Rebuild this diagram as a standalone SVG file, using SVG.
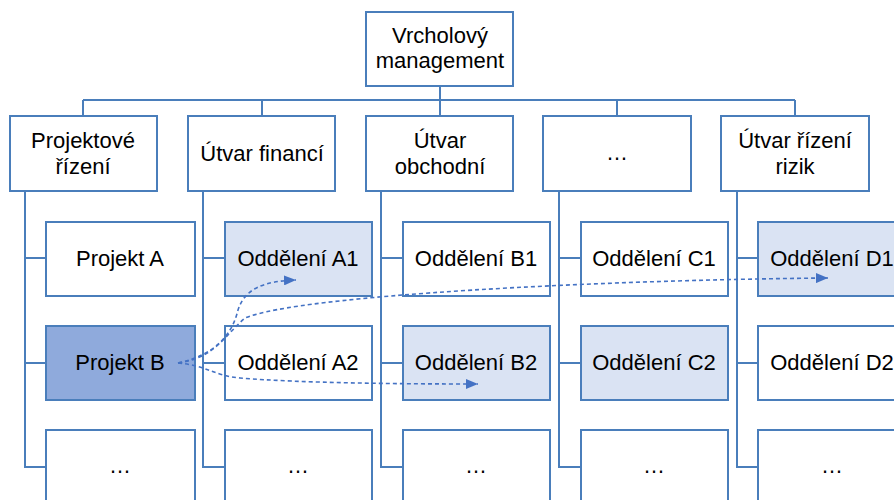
<svg xmlns="http://www.w3.org/2000/svg" width="894" height="500" viewBox="0 0 894 500">
<defs>
<style>
.b{fill:#fff;stroke:#4a7ebb;stroke-width:2}
.l{fill:#dae3f3;stroke:#4a7ebb;stroke-width:2}
.d{fill:#8faadc;stroke:#4a7ebb;stroke-width:2}
.c{fill:none;stroke:#4a7ebb;stroke-width:2}
.a{fill:none;stroke:#4472c4;stroke-width:1.6;stroke-dasharray:4 3}
text{font-family:"Liberation Sans",Arial,sans-serif;font-size:22px;fill:#000;text-anchor:middle}
</style>
<marker id="ah" viewBox="0 0 12 10" refX="12" refY="5" markerWidth="12" markerHeight="10" markerUnits="userSpaceOnUse" orient="auto">
<path d="M0,0 L12,5 L0,10 z" fill="#4472c4"/>
</marker>
</defs>
<g id="connectors">
<path class="c" d="M440,86 V116 M83,100 H795 M83,100 V116 M262,100 V116 M617,100 V116 M795,100 V116"/>
<path class="c" d="M25,191 V467 H46 M25,258 H46 M25,363 H46"/>
<path class="c" d="M203,191 V467 H225 M203,258 H225 M203,363 H225"/>
<path class="c" d="M381,191 V467 H403 M381,258 H403 M381,363 H403"/>
<path class="c" d="M559,191 V467 H581 M559,258 H581 M559,363 H581"/>
<path class="c" d="M737,191 V467 H758 M737,258 H758 M737,363 H758"/>
</g>
<g id="top"><rect class="b" x="366" y="12" width="147" height="74"/><text x="440" y="43">Vrcholový</text><text x="440" y="68">management</text></g>
<g id="projektove"><rect class="b" x="10" y="116" width="147" height="75"/><text x="83" y="148">Projektové</text><text x="83" y="174">řízení</text></g>
<g id="financi"><rect class="b" x="188" y="116" width="147" height="75"/><text x="262" y="161">Útvar financí</text></g>
<g id="obchodni"><rect class="b" x="366" y="116" width="147" height="75"/><text x="440" y="148">Útvar</text><text x="440" y="174">obchodní</text></g>
<g id="dots1"><rect class="b" x="543" y="116" width="148" height="75"/><text x="617" y="160">…</text></g>
<g id="rizik"><rect class="b" x="721" y="116" width="148" height="75"/><text x="795" y="148">Útvar řízení</text><text x="795" y="174">rizik</text></g>
<g id="projA"><rect class="b" x="46" y="222" width="149" height="74"/><text x="120" y="266">Projekt A</text></g>
<g id="projB"><rect class="d" x="46" y="326" width="149" height="74"/><text x="120" y="370">Projekt B</text></g>
<g id="p3"><rect class="b" x="46" y="430" width="149" height="80"/><text x="120" y="473">…</text></g>
<g id="A1"><rect class="l" x="225" y="222" width="147" height="74"/><text x="298" y="266">Oddělení A1</text></g>
<g id="A2"><rect class="b" x="225" y="326" width="147" height="74"/><text x="298" y="370">Oddělení A2</text></g>
<g id="A3"><rect class="b" x="225" y="430" width="147" height="80"/><text x="298" y="473">…</text></g>
<g id="B1"><rect class="b" x="403" y="222" width="147" height="74"/><text x="476" y="266">Oddělení B1</text></g>
<g id="B2"><rect class="l" x="403" y="326" width="147" height="74"/><text x="476" y="370">Oddělení B2</text></g>
<g id="B3"><rect class="b" x="403" y="430" width="147" height="80"/><text x="476" y="473">…</text></g>
<g id="C1"><rect class="b" x="581" y="222" width="147" height="74"/><text x="654" y="266">Oddělení C1</text></g>
<g id="C2"><rect class="l" x="581" y="326" width="147" height="74"/><text x="654" y="370">Oddělení C2</text></g>
<g id="C3"><rect class="b" x="581" y="430" width="147" height="80"/><text x="654" y="473">…</text></g>
<g id="D1"><rect class="l" x="758" y="222" width="148" height="74"/><text x="832" y="266">Oddělení D1</text></g>
<g id="D2"><rect class="b" x="758" y="326" width="148" height="74"/><text x="832" y="370">Oddělení D2</text></g>
<g id="D3"><rect class="b" x="758" y="430" width="148" height="80"/><text x="832" y="473">…</text></g>
<g id="arrows">
<path class="a" marker-end="url(#ah)" d="M178,363 C215,355 232,335 238,310 C245,288 265,281 296,280"/>
<path class="a" marker-end="url(#ah)" d="M178,363 C215,358 225,335 245,318 C300,295 600,280 828,278"/>
<path class="a" marker-end="url(#ah)" d="M178,363 C205,365 215,376 240,378 C300,383 400,384 478,384"/>
</g>
</svg>
